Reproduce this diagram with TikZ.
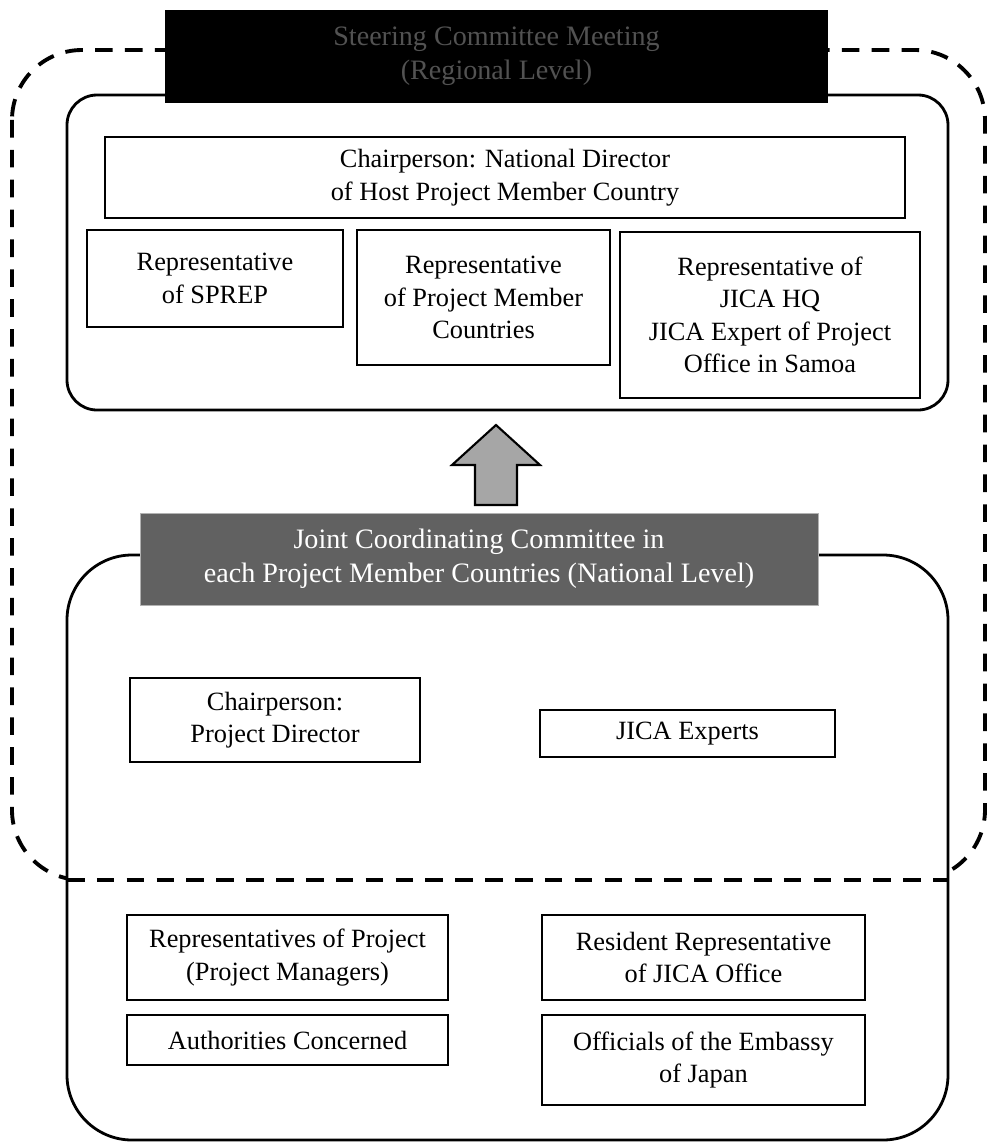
\documentclass[tikz,border=0pt]{standalone}
\usepackage{fontspec}
\setmainfont{Liberation Serif}
\usepackage{tikz}
\usetikzlibrary{arrows}

\begin{document}
\begin{tikzpicture}[x=0.02cm,y=-0.02cm,
                    box/.style={draw,rectangle,line width=1pt,fill=white,align=center,
                                font=\fontsize{15}{18.5}\selectfont},
                    frame/.style={draw,line width=1.6pt,fill=white},
                    head/.style={rectangle,align=center,font=\fontsize{16}{19.5}\selectfont}]
  %\draw[help lines] (0,0) grid (990,1147);
  \useasboundingbox (0,0) rectangle (990,1147);

  % regional level (dashed)
  \draw[line width=2.2pt,dash pattern=on 10pt off 7pt,rounded corners=1.4cm]
        (12,50) rectangle (985,880);

  \draw[frame,rounded corners=0.6cm] (67,95) rectangle (948,410);
  \draw[frame,rounded corners=1.3cm] (67,555) rectangle (948,1140);
  \draw[line width=2.2pt,dash pattern=on 10pt off 7pt] (67,880) -- (948,880);

  \node[head,fill=black,text=black!68,minimum width=13.26cm,minimum height=1.86cm]
        (SC) at (496.5,56.5) {Steering Committee Meeting\\(Regional Level)};

  \node[box,minimum width=16cm,minimum height=1.62cm] (CH) at (505,177.5)
        {Chairperson: National Director\\of Host Project Member Country};
  \node[box,minimum width=5.12cm,minimum height=1.94cm] (SP) at (215,278.5)
        {Representative\\of SPREP};
  \node[box,minimum width=5.06cm,minimum height=2.7cm]  (PM) at (483.5,297.5)
        {Representative\\of Project Member\\Countries};
  \node[box,minimum width=6cm,minimum height=3.32cm]    (JH) at (770,315)
        {Representative of\\JICA HQ\\JICA Expert of Project\\Office in Samoa};

  \draw[line width=1.2pt,fill=black!35]
        (475,505) -- (475,465) -- (452,465) -- (496,425) -- (540,465)
        -- (517,465) -- (517,505) -- cycle;

  \node[head,draw=black!30,fill=black!62,text=white,minimum width=13.56cm,minimum height=1.84cm]
        (JC) at (479,559) {Joint Coordinating Committee in\\each Project Member Countries (National Level)};

  \node[box,minimum width=5.8cm,minimum height=1.68cm]  (PD) at (275,720)
        {Chairperson:\\Project Director};
  \node[box,minimum width=5.9cm,minimum height=0.94cm]  (JE) at (687.5,733.5)
        {JICA Experts};

  \node[box,minimum width=6.42cm,minimum height=1.7cm]  (RP) at (287.5,957.5)
        {Representatives of Project\\(Project Managers)};
  \node[box,minimum width=6.46cm,minimum height=1.7cm]  (RR) at (703.5,957.5)
        {Resident Representative\\of JICA Office};
  \node[box,minimum width=6.42cm,minimum height=1cm]    (AC) at (287.5,1040)
        {Authorities Concerned};
  \node[box,minimum width=6.46cm,minimum height=1.8cm]  (OE) at (703.5,1060)
        {Officials of the Embassy\\of Japan};
\end{tikzpicture}
\end{document}
